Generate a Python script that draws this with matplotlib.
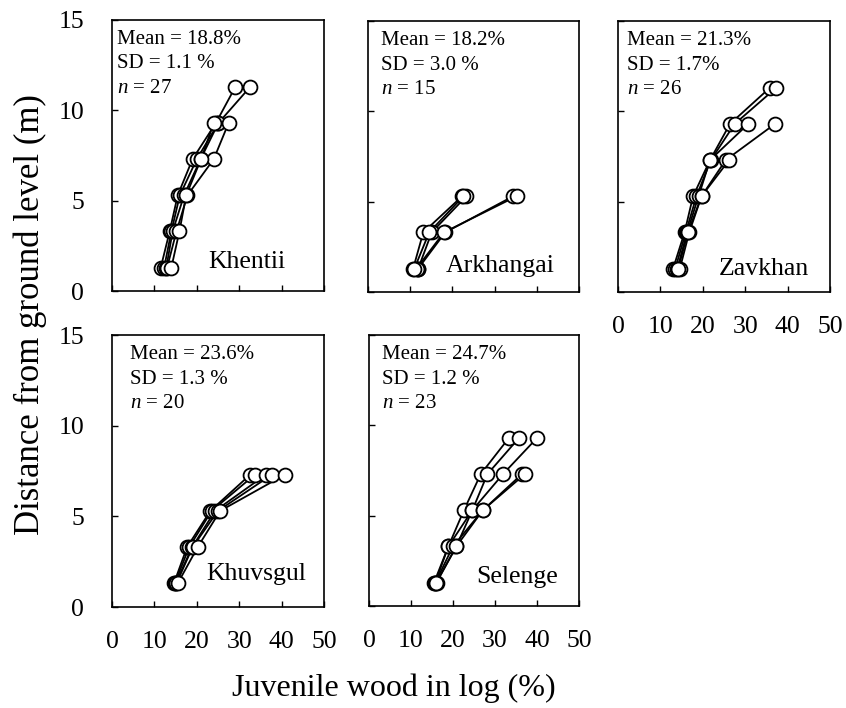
import matplotlib
matplotlib.use("Agg")
import matplotlib.pyplot as plt
import numpy as np

plt.rcParams['font.family'] = ['Liberation Serif', 'DejaVu Serif']
plt.rcParams['mathtext.fontset'] = 'custom'
plt.rcParams['mathtext.rm'] = 'Liberation Serif'
plt.rcParams['mathtext.it'] = 'Liberation Serif:italic'

# heights (m) of sampling positions
heights = [1.3, 3.3, 5.3, 7.3, 9.3, 11.3]

# juvenile wood (%) per tree, from bottom to top
khentii_lines = [
    [11.5, 13.6, 15.5, 19.0, 24.5, 29.1],
    [12.3, 14.0, 16.0, 20.0, 25.1, 32.6],
    [12.8, 14.3, 17.0, 20.9, 25.1],
    [13.0, 15.2, 17.8, 24.0, 27.5],
    [14.0, 15.9, 17.5, 21.0, 24.0],
]
arkhangai_lines = [
    [10.7, 13.1, 22.3],
    [11.9, 15.1, 23.3],
    [11.9, 18.3, 34.4],
    [11.5, 18.0, 35.2],
    [11.0, 14.5, 22.6],
]
zavkhan_lines = [
    [13.0, 15.7, 17.7, 21.7, 26.4, 35.8],
    [13.5, 16.0, 18.5, 21.9, 27.5, 37.3],
    [14.0, 16.3, 19.0, 21.7, 30.7],
    [14.6, 16.8, 19.7, 25.4, 37.0],
    [14.2, 16.5, 19.7, 26.2],
]
khuvsgul_lines = [
    [14.6, 17.7, 23.2, 32.6],
    [14.8, 18.2, 23.5, 33.7],
    [15.0, 18.9, 24.3, 36.3],
    [15.2, 19.0, 25.0, 37.7],
    [15.5, 20.2, 25.5, 40.8],
]
selenge_lines = [
    [15.5, 18.9, 22.6, 26.6, 33.3],
    [15.8, 18.9, 24.6, 28.2, 35.7],
    [16.1, 20.8, 24.6, 31.9, 40.0],
    [15.8, 20.0, 27.1, 36.4],
    [16.0, 20.8, 27.1, 37.1],
]

regions = ["Khentii", "Arkhangai", "Zavkhan", "Khuvsgul", "Selenge"]
means = ["18.8%", "18.2%", "21.3%", "23.6%", "24.7%"]
sds = ["1.1 %", "3.0 %", "1.7%", "1.3 %", "1.2 %"]
ns = [27, 15, 26, 20, 23]
all_lines = [khentii_lines, arkhangai_lines, zavkhan_lines, khuvsgul_lines, selenge_lines]

xticks = [0, 10, 20, 30, 40, 50]
yticks = [0, 5, 10, 15]

W, H = 846, 708
fig = plt.figure(figsize=(W / 100, H / 100), dpi=100)

# pixel boxes: left, right, top, bottom
boxes = [
    (112, 324, 20, 291),
    (368, 579, 21, 292),
    (618, 830, 21, 292),
    (112, 324, 335, 607),
    (369, 579, 335, 606),
]
stat_dx = [5, 13, 9, 18, 13]
label_pos = [(0.82, 0.085), (0.886, 0.074), (0.90, 0.063), (0.915, 0.10), (0.90, 0.085)]
show_x = [False, False, True, True, True]
show_y = [True, False, False, True, False]

for i, (l, r, t, b) in enumerate(boxes):
    ax = fig.add_axes([l / W, 1 - b / H, (r - l) / W, (b - t) / H])
    ax.set_xlim(0, 50)
    ax.set_ylim(0, 15)
    ax.set_xticks(xticks)
    ax.set_yticks(yticks)
    ax.tick_params(direction='in', length=4.5, width=1.0, labelsize=18.5,
                   top=False, right=False)
    ax.tick_params(axis='x', pad=17)
    ax.tick_params(axis='y', pad=20)
    if not show_x[i]:
        ax.set_xticklabels([])
    if not show_y[i]:
        ax.set_yticklabels([])
    for s in ax.spines.values():
        s.set_linewidth(1.2)
    for xs in all_lines[i]:
        ax.plot(xs, heights[:len(xs)], color='black', lw=1.3, zorder=2)
    for xs in all_lines[i]:
        ax.plot(xs, heights[:len(xs)], linestyle='none', marker='o', ms=10,
                mfc='white', mec='black', mew=1.3, zorder=3)
    width_px = r - l
    height_px = b - t
    x0 = stat_dx[i] / width_px
    for k, txt in enumerate([f"Mean = {means[i]}", f"SD = {sds[i]}", f"$n$ = {ns[i]}"]):
        ax.text(x0, 1 - (24 + 24.5 * k) / height_px, txt, transform=ax.transAxes,
                fontsize=15, ha='left', va='baseline', zorder=4)
    lx, ly = label_pos[i]
    ax.text(lx, ly, regions[i], transform=ax.transAxes, fontsize=18.5,
            ha='right', va='baseline', zorder=4)

fig.text(394 / W, 1 - 688 / H, "Juvenile wood in log (%)", fontsize=23,
         ha='center', va='center')
fig.text(30 / W, 1 - 315 / H, "Distance from ground level (m)", fontsize=25,
         ha='center', va='center', rotation=90)

fig.savefig("out.png", dpi=100)
